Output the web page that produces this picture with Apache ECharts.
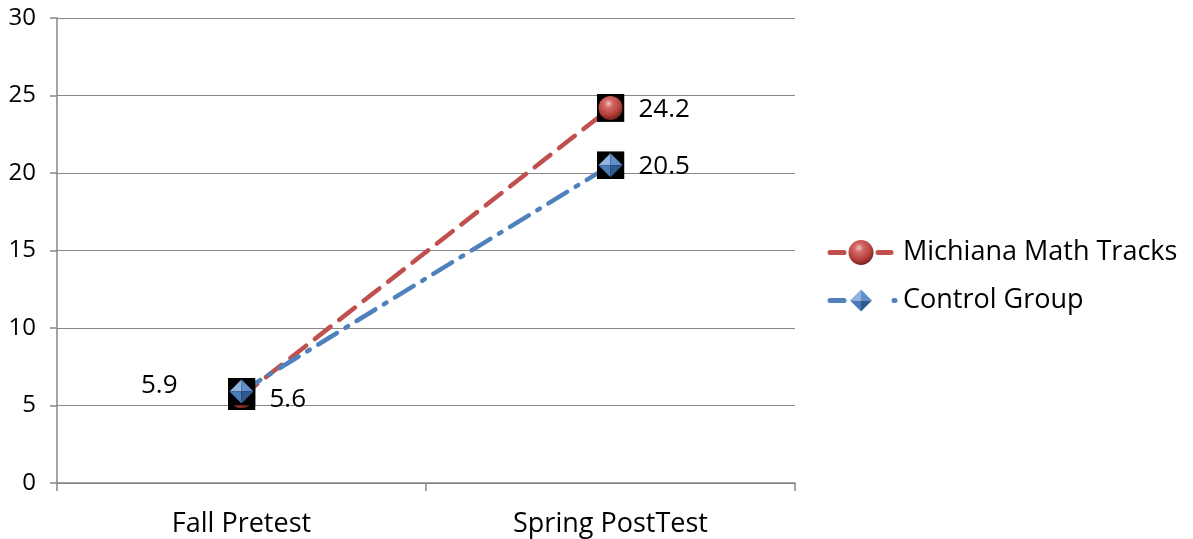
<!DOCTYPE html>
<html>
<head>
<meta charset="utf-8">
<script src="https://cdn.jsdelivr.net/npm/echarts@6/dist/echarts.min.js"></script>
<style>
  html, body { margin: 0; padding: 0; background: #ffffff; }
  #chart { width: 1193px; height: 539px; }
</style>
</head>
<body>
<div id="chart"></div>
<script>
// Test occasions on the category axis
const categories = ['Fall Pretest', 'Spring PostTest'];
// Mean scores per group
const michianaScores = [5.6, 24.2];
const controlScores = [5.9, 20.5];
// Value axis ticks
const yMin = 0, yMax = 30, yStep = 5;

const FONT = '"Open Sans", "Noto Sans", sans-serif';
const RED = '#C0504D';
const BLUE = '#4F81BD';

function svgUri(svg) {
  return 'image://data:image/svg+xml;charset=utf-8,' + encodeURIComponent(svg);
}

// Shaded sphere glyph
function sphereSvg(cx, cy, r) {
  return '<defs><radialGradient id="sg" cx="0.42" cy="0.32" r="0.7">' +
    '<stop offset="0" stop-color="#f4c4c2"/>' +
    '<stop offset="0.25" stop-color="#d46a66"/>' +
    '<stop offset="0.7" stop-color="#b23e3a"/>' +
    '<stop offset="1" stop-color="#6e1f1c"/></radialGradient></defs>' +
    '<circle cx="' + cx + '" cy="' + cy + '" r="' + r + '" fill="url(#sg)"/>';
}
// Faceted diamond glyph
function diamondSvg(cx, cy, r) {
  const t = [cx, cy - r], b = [cx, cy + r], l = [cx - r, cy], rr = [cx + r, cy], c = [cx, cy];
  const tri = (p1, p2, col) => '<polygon points="' + [p1, p2, c].map(p => p.join(',')).join(' ') + '" fill="' + col + '"/>';
  return tri(l, t, '#8fb4e0') + tri(t, rr, '#5f8fcb') + tri(l, b, '#4a7bb8') + tri(b, rr, '#2f5a90');
}

const S = 28;
const sphereMarker = svgUri('<svg xmlns="http://www.w3.org/2000/svg" width="' + S + '" height="' + S + '" viewBox="0 0 28 28">' +
  '<rect width="28" height="28" fill="#000"/>' + sphereSvg(14, 14, 12) + '</svg>');
const diamondMarker = svgUri('<svg xmlns="http://www.w3.org/2000/svg" width="' + S + '" height="' + S + '" viewBox="0 0 28 28">' +
  '<rect width="28" height="28" fill="#000"/>' + diamondSvg(14, 14, 12) + '</svg>');

// Legend icons: line segments around the glyph
const LW = 73, LH = 26;
const redLegend = svgUri('<svg xmlns="http://www.w3.org/2000/svg" width="' + LW + '" height="' + LH + '" viewBox="0 0 73 26">' +
  '<line x1="5" y1="13" x2="19" y2="13" stroke="' + RED + '" stroke-width="5" stroke-linecap="round"/>' +
  '<line x1="53" y1="13" x2="66" y2="13" stroke="' + RED + '" stroke-width="5" stroke-linecap="round"/>' +
  sphereSvg(36, 13, 12.5) + '</svg>');
const blueLegend = svgUri('<svg xmlns="http://www.w3.org/2000/svg" width="' + LW + '" height="' + LH + '" viewBox="0 0 73 26">' +
  '<line x1="5" y1="13" x2="19" y2="13" stroke="' + BLUE + '" stroke-width="5" stroke-linecap="round"/>' +
  '<line x1="69" y1="13" x2="70" y2="13" stroke="' + BLUE + '" stroke-width="5" stroke-linecap="round"/>' +
  diamondSvg(36, 13, 11) + '</svg>');

const labelStyle = { color: '#000', fontFamily: FONT, fontSize: 26 };

const chart = echarts.init(document.getElementById('chart'), null, { renderer: 'canvas' });
chart.setOption({
  animation: false,
  backgroundColor: '#ffffff',
  grid: { left: 57, right: 398, top: 18, bottom: 56, containLabel: false },
  legend: {
    orient: 'vertical',
    left: 820,
    top: 234,
    itemWidth: LW,
    itemHeight: LH,
    itemGap: 21,
    textStyle: { color: '#000', fontFamily: FONT, fontSize: 27, padding: [0, 0, 0, 0] },
    data: [
      { name: 'Michiana Math Tracks', icon: redLegend },
      { name: 'Control Group', icon: blueLegend }
    ]
  },
  xAxis: {
    type: 'category',
    data: categories,
    boundaryGap: true,
    axisLine: { lineStyle: { color: '#868686', width: 1.5 } },
    axisTick: { show: true, length: 8, lineStyle: { color: '#868686', width: 1.5 } },
    axisLabel: { color: '#000', fontFamily: FONT, fontSize: 27, margin: 28 },
    splitLine: { show: false }
  },
  yAxis: {
    type: 'value',
    min: yMin,
    max: yMax,
    interval: yStep,
    axisLine: { show: true, lineStyle: { color: '#868686', width: 1.5 } },
    axisTick: { show: true, length: 7, lineStyle: { color: '#868686', width: 1.5 } },
    axisLabel: { color: '#000', fontFamily: FONT, fontSize: 24, margin: 21 },
    splitLine: { show: true, lineStyle: { color: '#868686', width: 1 } }
  },
  series: [
    {
      name: 'Michiana Math Tracks',
      type: 'line',
      data: michianaScores.map((v, i) => i === 0
        ? { value: v, label: { offset: [0, 3] } }
        : v),
      symbol: sphereMarker,
      symbolSize: S,
      lineStyle: { color: RED, width: 4.5, type: [20, 11], cap: 'round' },
      itemStyle: { color: RED },
      label: { show: true, position: 'right', distance: 14, offset: [0, 2], ...labelStyle },
      z: 2
    },
    {
      name: 'Control Group',
      type: 'line',
      data: controlScores.map((v, i) => i === 0
        ? { value: v, label: { position: 'left', distance: 50, offset: [0, -6] } }
        : v),
      symbol: diamondMarker,
      symbolSize: S,
      lineStyle: { color: BLUE, width: 4.5, type: [22, 10, 3, 10], cap: 'round' },
      itemStyle: { color: BLUE },
      label: { show: true, position: 'right', distance: 14, offset: [0, 1], ...labelStyle },
      z: 3
    }
  ]
});
</script>
</body>
</html>
